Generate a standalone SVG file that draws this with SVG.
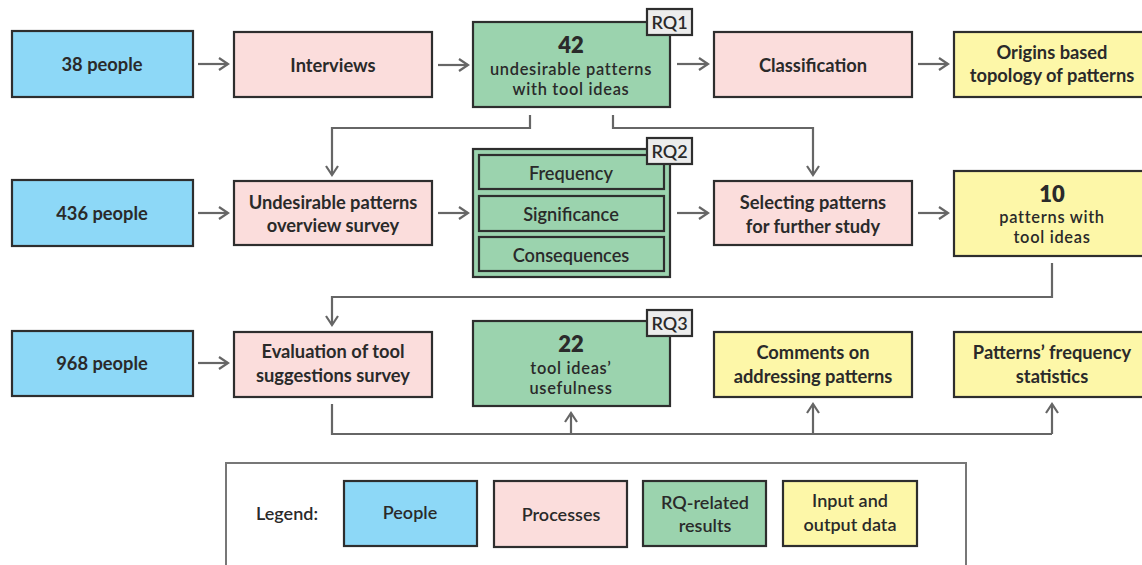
<svg xmlns="http://www.w3.org/2000/svg" width="1142" height="565" viewBox="0 0 1142 565">
<defs>
<marker id="arr" viewBox="0 0 12 14" refX="10" refY="7" markerWidth="12" markerHeight="14" markerUnits="userSpaceOnUse" orient="auto">
<path d="M1,1 L10,7 L1,13" fill="none" stroke="#666" stroke-width="2.2" stroke-linejoin="miter"/>
</marker>
<style>
.box{stroke:#2e2e2e;stroke-width:2.2}
.ppl{fill:#8dd8f7}
.proc{fill:#fbdddc}
.rq{fill:#9bd3ae}
.io{fill:#fdf7a8}
.tag{fill:#ececec;stroke:#2e2e2e;stroke-width:2.2}
text{font-family:Lato,"Open Sans","DejaVu Sans",sans-serif;font-weight:700;font-size:18.3px;fill:#2a2a2a;text-anchor:middle;dominant-baseline:central}
.big{font-size:22px;font-weight:800}
.sm{font-weight:600;font-size:18.2px}
.sm3{font-weight:600;font-size:16.4px;letter-spacing:0.7px}
.lg{font-weight:600;font-size:18px}
.t{font-weight:600;font-size:18px}
.con{fill:none;stroke:#666;stroke-width:2.2}
</style>
</defs>

<g id="connectors">
<line class="con" x1="198" y1="64" x2="228" y2="64" marker-end="url(#arr)"/>
<line class="con" x1="438" y1="65" x2="468" y2="65" marker-end="url(#arr)"/>
<line class="con" x1="677" y1="64" x2="708" y2="64" marker-end="url(#arr)"/>
<line class="con" x1="918" y1="64" x2="948" y2="64" marker-end="url(#arr)"/>
<polyline class="con" points="530,115 530,128 332,128 332,175" marker-end="url(#arr)"/>
<polyline class="con" points="613,115 613,128 813,128 813,175" marker-end="url(#arr)"/>
<line class="con" x1="198" y1="213" x2="228" y2="213" marker-end="url(#arr)"/>
<line class="con" x1="438" y1="213" x2="468" y2="213" marker-end="url(#arr)"/>
<line class="con" x1="677" y1="213" x2="708" y2="213" marker-end="url(#arr)"/>
<line class="con" x1="918" y1="213" x2="948" y2="213" marker-end="url(#arr)"/>
<polyline class="con" points="1052,263 1052,297 332,297 332,325" marker-end="url(#arr)"/>
<line class="con" x1="198" y1="363" x2="228" y2="363" marker-end="url(#arr)"/>
<polyline class="con" points="332,404 332,434 1052,434"/>
<line class="con" x1="571" y1="434" x2="571" y2="413" marker-end="url(#arr)"/>
<line class="con" x1="813" y1="434" x2="813" y2="404" marker-end="url(#arr)"/>
<line class="con" x1="1052" y1="434" x2="1052" y2="404" marker-end="url(#arr)"/>
</g>

<g id="n38">
<rect class="box ppl" x="12" y="31" width="181" height="66"/>
<text x="102" y="64">38 people</text>
</g>
<g id="interviews">
<rect class="box proc" x="234" y="32" width="198" height="65"/>
<text x="333" y="65">Interviews</text>
</g>
<g id="rq1">
<rect class="box rq" x="473" y="22" width="197" height="85"/>
<text class="big" x="571" y="44">42</text>
<text class="sm3" x="571" y="68">undesirable patterns</text>
<text class="sm3" x="571" y="88">with tool ideas</text>
<rect class="tag" x="647" y="9" width="45" height="26"/>
<text class="t" x="669.5" y="22">RQ1</text>
</g>
<g id="classification">
<rect class="box proc" x="714" y="32" width="198" height="65"/>
<text x="813" y="65">Classification</text>
</g>
<g id="origins">
<rect class="box io" x="954" y="32" width="200" height="65"/>
<text x="1052" y="52">Origins based</text>
<text x="1052" y="75">topology of patterns</text>
</g>

<g id="n436">
<rect class="box ppl" x="12" y="180" width="181" height="66"/>
<text x="102" y="213">436 people</text>
</g>
<g id="overview">
<rect class="box proc" x="234" y="181" width="198" height="64"/>
<text x="333" y="202">Undesirable patterns</text>
<text x="333" y="225">overview survey</text>
</g>
<g id="rq2">
<rect class="box rq" x="473" y="149" width="197" height="128"/>
<rect class="box rq" x="479" y="155" width="185" height="34"/>
<text class="sm" x="571" y="173">Frequency</text>
<rect class="box rq" x="479" y="196" width="185" height="35"/>
<text class="sm" x="571" y="214">Significance</text>
<rect class="box rq" x="479" y="237" width="185" height="34"/>
<text class="sm" x="571" y="255">Consequences</text>
<rect class="tag" x="647" y="138" width="45" height="26"/>
<text class="t" x="669.5" y="151">RQ2</text>
</g>
<g id="selecting">
<rect class="box proc" x="714" y="181" width="198" height="64"/>
<text x="813" y="202">Selecting patterns</text>
<text x="813" y="226">for further study</text>
</g>
<g id="ten">
<rect class="box io" x="954" y="171" width="200" height="85"/>
<text class="big" x="1052" y="193">10</text>
<text class="sm3" x="1052" y="216">patterns with</text>
<text class="sm3" x="1052" y="236">tool ideas</text>
</g>

<g id="n968">
<rect class="box ppl" x="12" y="331" width="181" height="65"/>
<text x="102" y="363">968 people</text>
</g>
<g id="evaluation">
<rect class="box proc" x="234" y="332" width="198" height="65"/>
<text x="333" y="351">Evaluation of tool</text>
<text x="333" y="375">suggestions survey</text>
</g>
<g id="rq3">
<rect class="box rq" x="473" y="321" width="197" height="85"/>
<text class="big" x="571" y="343">22</text>
<text class="sm3" x="571" y="367">tool ideas’</text>
<text class="sm3" x="571" y="387">usefulness</text>
<rect class="tag" x="647" y="310" width="45" height="26"/>
<text class="t" x="669.5" y="323">RQ3</text>
</g>
<g id="comments">
<rect class="box io" x="714" y="332" width="198" height="65"/>
<text x="813" y="352">Comments on</text>
<text x="813" y="376">addressing patterns</text>
</g>
<g id="stats">
<rect class="box io" x="954" y="332" width="200" height="65"/>
<text x="1052" y="352">Patterns’ frequency</text>
<text x="1052" y="376">statistics</text>
</g>

<g id="legend">
<rect x="226" y="463" width="740" height="110" fill="#fff" stroke="#777" stroke-width="2"/>
<text class="lg" x="287" y="513">Legend:</text>
<rect class="box ppl" x="344" y="481" width="133" height="65"/>
<text class="lg" x="410" y="512">People</text>
<rect class="box proc" x="494" y="481" width="133" height="66"/>
<text class="lg" x="561" y="514">Processes</text>
<rect class="box rq" x="643" y="481" width="123" height="65"/>
<text class="lg" x="705" y="502">RQ-related</text>
<text class="lg" x="705" y="525">results</text>
<rect class="box io" x="783" y="481" width="134" height="65"/>
<text class="lg" x="850" y="500">Input and</text>
<text class="lg" x="850" y="524">output data</text>
</g>
</svg>
